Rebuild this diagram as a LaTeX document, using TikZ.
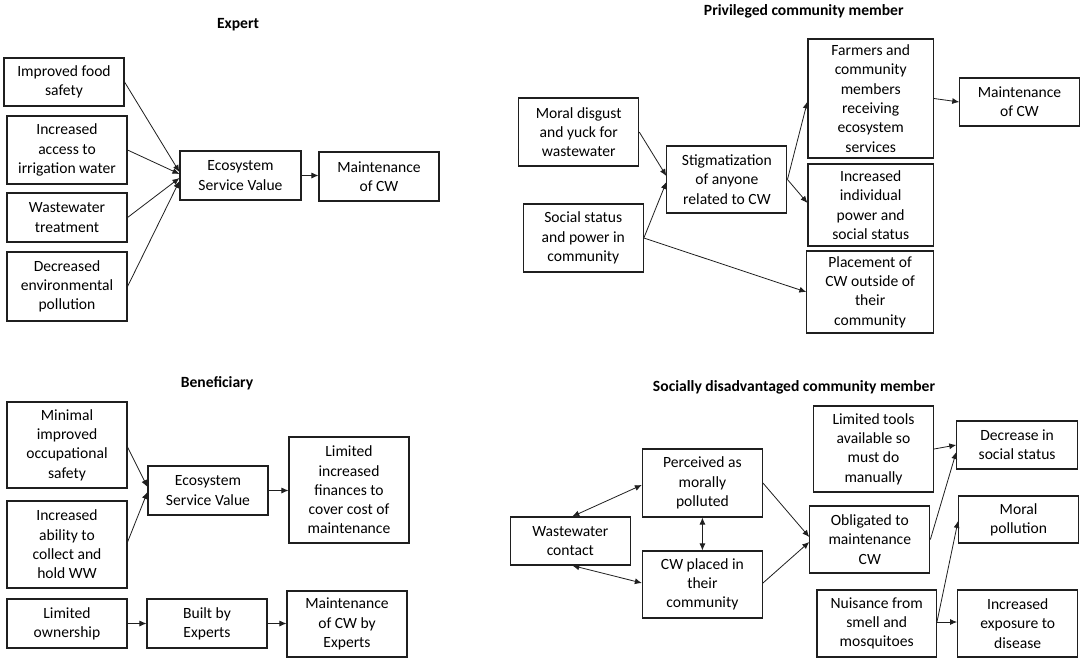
\documentclass[tikz,border=0pt]{standalone}
\usepackage{fontspec}
\setmainfont{Carlito}
\usetikzlibrary{arrows.meta}
\tikzset{
  box/.style={draw=black!88, line width=1.1pt, align=center, inner sep=0pt, fill=white,
    font=\fontsize{15.6}{19.3}\selectfont},
  ttl/.style={font=\fontsize{15.6}{19}\selectfont\bfseries},
  arr/.style={draw=black!88, line width=0.8pt, -{Latex[length=7pt,width=6pt]}},
  darr/.style={draw=black!88, line width=0.8pt, {Latex[length=7pt,width=6pt]}-{Latex[length=7pt,width=6pt]}}
}
\begin{document}
\begin{tikzpicture}[x=1pt,y=-1pt]
\useasboundingbox[fill=white] (0,0) rectangle (1084,662);

% ---------------- Expert ----------------
\node[ttl] (t1) at (238,25) {Expert};
\node[box, minimum width=120pt, minimum height=48pt] (f1) at (64,82) {Improved food\\safety};
\node[box, minimum width=120pt, minimum height=68pt] (f2) at (67,150) {Increased\\access to\\irrigation water};
\node[box, minimum width=120pt, minimum height=49pt] (f3) at (67,217.5) {Wastewater\\treatment};
\node[box, minimum width=120pt, minimum height=69pt] (f4) at (67,286.5) {Decreased\\environmental\\pollution};
\node[box, minimum width=121pt, minimum height=49pt] (esv) at (240.5,175.5) {Ecosystem\\Service Value};
\node[box, minimum width=120pt, minimum height=49pt] (mcw) at (379,176.5) {Maintenance\\of CW};
\draw[arr] (f1.east) -- ([shift={(0,-3.5)}]esv.west);
\draw[arr] (f2.east) -- ([shift={(0,-1.5)}]esv.west);
\draw[arr] (f3.east) -- ([shift={(0,2.5)}]esv.west);
\draw[arr] (f4.east) -- ([shift={(0,5.5)}]esv.west);
\draw[arr] (esv.east) -- (esv.east -| mcw.west);

% ---------------- Privileged ----------------
\node[ttl] (t2) at (803.8,11) {Privileged community member};
\node[box, minimum width=120pt, minimum height=68pt] (md) at (578.7,132) {Moral disgust\\and yuck for\\wastewater};
\node[box, minimum width=120pt, minimum height=68pt] (ss) at (583.3,238) {Social status\\and power in\\community};
\node[box, minimum width=120pt, minimum height=67pt] (st) at (726.9,179.5) {Stigmatization\\of anyone\\related to CW};
\node[box, minimum width=125.4pt, minimum height=119pt] (fa) at (870.7,98.5) {Farmers and\\community\\members\\receiving\\ecosystem\\services};
\node[box, minimum width=119.4pt, minimum height=48pt] (m2) at (1019.5,102) {Maintenance\\of CW};
\node[box, minimum width=125.4pt, minimum height=82pt] (ii) at (870.7,205) {Increased\\individual\\power and\\social status};
\node[box, minimum width=126.5pt, minimum height=82pt] (pl) at (870.1,292) {Placement of\\CW outside of\\their\\community};
\draw[arr] (md.east) -- ([shift={(0,-3.5)}]st.west);
\draw[arr] (ss.east) -- ([shift={(0,2.5)}]st.west);
\draw[arr] (ss.east) -- (pl.west);
\draw[arr] (st.east) -- ([shift={(0,3)}]fa.west);
\draw[arr] (st.east) -- ([shift={(0,-2)}]ii.west);
\draw[arr] (fa.east) -- (m2.west);

% ---------------- Beneficiary ----------------
\node[ttl] (t3) at (217,383) {Beneficiary};
\node[box, minimum width=120pt, minimum height=86pt] (b1) at (67,445) {Minimal\\improved\\occupational\\safety};
\node[box, minimum width=120pt, minimum height=87pt] (b2) at (67,544.5) {Increased\\ability to\\collect and\\hold WW};
\node[box, minimum width=120pt, minimum height=49pt] (be) at (208,490.5) {Ecosystem\\Service Value};
\node[box, minimum width=120pt, minimum height=106pt] (bl) at (349,490) {Limited\\increased\\finances to\\cover cost of\\maintenance};
\node[box, minimum width=120pt, minimum height=49pt] (lo) at (67,623.5) {Limited\\ownership};
\node[box, minimum width=120pt, minimum height=49pt] (bb) at (207,623.5) {Built by\\Experts};
\node[box, minimum width=120pt, minimum height=66pt] (bm) at (347,624) {Maintenance\\of CW by\\Experts};
\draw[arr] ([shift={(0,2)}]b1.east) -- ([shift={(0,-3.5)}]be.west);
\draw[arr] ([shift={(0,-2.5)}]b2.east) -- ([shift={(0,1.5)}]be.west);
\draw[arr] (be.east) -- (be.east -| bl.west);
\draw[arr] (lo.east) -- (bb.west);
\draw[arr] (bb.east) -- (bb.east -| bm.west);

% ---------------- Socially disadvantaged ----------------
\node[ttl] (t4) at (794,387) {Socially disadvantaged community member};
\node[box, minimum width=120pt, minimum height=48pt] (wc) at (570.3,541) {Wastewater\\contact};
\node[box, minimum width=120pt, minimum height=68pt] (pe) at (702.4,483) {Perceived as\\morally\\polluted};
\node[box, minimum width=120pt, minimum height=67pt] (cp) at (702.4,584.5) {CW placed in\\their\\community};
\node[box, minimum width=120pt, minimum height=67pt] (ob) at (869.8,539.5) {Obligated to\\maintenance\\CW};
\node[box, minimum width=120pt, minimum height=86pt] (lt) at (873.5,449) {Limited tools\\available so\\must do\\manually};
\node[box, minimum width=120.6pt, minimum height=48pt] (de) at (1017.1,445) {Decrease in\\social status};
\node[box, minimum width=120pt, minimum height=47pt] (mp) at (1018.6,519.5) {Moral\\pollution};
\node[box, minimum width=119.4pt, minimum height=67pt] (nu) at (876.7,623.5) {Nuisance from\\smell and\\mosquitoes};
\node[box, minimum width=120.2pt, minimum height=67pt] (ie) at (1017.7,623.5) {Increased\\exposure to\\disease};
\draw[darr] ([shift={(2,0)}]wc.north) -- ([shift={(0,2)}]pe.west);
\draw[darr] ([shift={(2,0)}]wc.south) -- ([shift={(0,-1.5)}]cp.west);
\draw[darr] (pe.south) -- (cp.north);
\draw[arr] (pe.east) -- ([shift={(0,-2.5)}]ob.west);
\draw[arr] ([shift={(0,-1.5)}]cp.east) -- ([shift={(0,2.5)}]ob.west);
\draw[arr] (lt.east) -- (de.west);
\draw[arr] (ob.east) -- ([shift={(0,7)}]de.west);
\draw[arr] ([shift={(0,-1.5)}]nu.east) -- ([shift={(0,1.5)}]mp.west);
\draw[arr] ([shift={(0,-1.5)}]nu.east) -- ([shift={(0,-1.5)}]nu.east -| ie.west);
\end{tikzpicture}
\end{document}
